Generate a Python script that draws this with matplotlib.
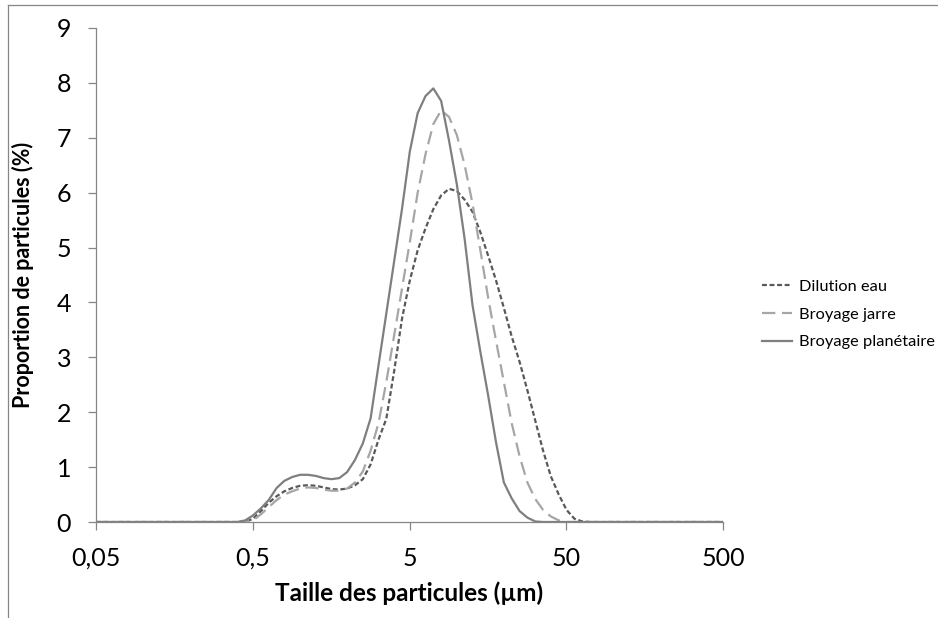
import matplotlib
matplotlib.use("Agg")
import matplotlib.pyplot as plt
from matplotlib.lines import Line2D
from matplotlib.ticker import FixedLocator, NullLocator

# tailles (µm), grille log du granulometre
taille = [0.05, 0.399, 0.448, 0.502, 0.564, 0.632, 0.710, 0.796, 0.893, 1.002,
          1.125, 1.262, 1.416, 1.589, 1.783, 2.000, 2.244, 2.518, 2.825, 3.170,
          3.557, 3.991, 4.477, 5.024, 5.637, 6.325, 7.096, 7.962, 8.934, 10.024,
          11.247, 12.619, 14.159, 15.887, 17.825, 20.000, 22.440, 25.179, 28.251, 31.698,
          35.566, 39.905, 44.774, 50.238, 56.368, 63.246, 70.963, 500.0]

dilution_eau = [0, 0, 0, 0.06, 0.20, 0.35, 0.47, 0.56, 0.62, 0.66,
                0.67, 0.66, 0.63, 0.60, 0.59, 0.61, 0.67, 0.78, 1.05, 1.50,
                1.88, 2.75, 3.70, 4.40, 4.95, 5.35, 5.70, 5.95, 6.07, 6.03,
                5.87, 5.65, 5.28, 4.85, 4.40, 3.90, 3.38, 2.92, 2.40, 1.85,
                1.30, 0.83, 0.50, 0.22, 0.06, 0.01, 0, 0]

broyage_jarre = [0, 0, 0, 0.03, 0.14, 0.27, 0.40, 0.50, 0.56, 0.61,
                 0.63, 0.62, 0.59, 0.57, 0.57, 0.61, 0.72, 0.92, 1.30, 1.80,
                 2.55, 3.40, 4.25, 5.10, 6.00, 6.70, 7.25, 7.50, 7.38, 7.05,
                 6.50, 5.80, 4.95, 4.08, 3.30, 2.55, 1.80, 1.20, 0.72, 0.42,
                 0.22, 0.10, 0.03, 0, 0, 0, 0, 0]

broyage_planetaire = [0, 0, 0.03, 0.12, 0.25, 0.40, 0.62, 0.75, 0.82, 0.86,
                      0.86, 0.84, 0.80, 0.78, 0.80, 0.91, 1.13, 1.43, 1.89, 2.85,
                      3.80, 4.75, 5.70, 6.75, 7.45, 7.76, 7.90, 7.67, 6.95, 6.15,
                      5.15, 3.95, 3.10, 2.30, 1.45, 0.72, 0.43, 0.20, 0.08, 0.01,
                      0, 0, 0, 0, 0, 0, 0, 0]

xticks = [0.05, 0.5, 5, 50, 500]
xlabels = ["0,05", "0,5", "5", "50", "500"]
yticks = list(range(0, 10))

fig = plt.figure(figsize=(9.38, 6.18), dpi=100)
fig.patch.set_facecolor('white')
ax = fig.add_axes([96/938, 1-522/618, (723-96)/938, (522-28)/618])

ax.plot(taille, dilution_eau, color='#595959', lw=1.6, dashes=(2.2, 1.2),
        label='Dilution eau', zorder=3)
ax.plot(taille, broyage_jarre, color='#A6A6A6', lw=1.6, dashes=(6, 3),
        label='Broyage jarre', zorder=4)
ax.plot(taille, broyage_planetaire, color='#7F7F7F', lw=1.6,
        label='Broyage planétaire', zorder=5)

ax.set_xscale('log')
ax.set_xlim(0.05, 500)
ax.set_ylim(0, 9)
ax.xaxis.set_major_locator(FixedLocator(xticks))
ax.xaxis.set_minor_locator(NullLocator())
ax.set_xticklabels(xlabels)
ax.set_yticks(yticks)

for s in ['top', 'right']:
    ax.spines[s].set_visible(False)
for s in ['left', 'bottom']:
    ax.spines[s].set_color('#868686')
    ax.spines[s].set_linewidth(0.9)
ax.tick_params(axis='both', colors='#868686', direction='out', width=0.9,
               labelsize=18, labelcolor='black')
ax.tick_params(axis='x', length=6, pad=12)
ax.tick_params(axis='y', length=6, pad=12)
for lab in ax.get_xticklabels() + ax.get_yticklabels():
    lab.set_family('Lato')

ax.set_xlabel('Taille des particules (µm)', family='Lato', fontweight='bold',
              fontsize=17.5, labelpad=8)
ax.set_ylabel('Proportion de particules (%)', family='Lato', fontweight='bold',
              fontsize=15.5, labelpad=16)

leg = ax.legend(loc='center left', bbox_to_anchor=(1.062, 0.42), frameon=False,
                prop={'family': 'Lato', 'size': 11.8}, handlelength=1.85,
                handletextpad=0.4, labelspacing=0.8, borderpad=0,
                borderaxespad=0)

# cadre du graphique
fig.add_artist(Line2D([8/938, 937/938], [1-5/618, 1-5/618], color='#868686', lw=0.9))
fig.add_artist(Line2D([8/938, 8/938], [0, 1-5/618], color='#868686', lw=0.9))

fig.savefig('out.png', dpi=100)
